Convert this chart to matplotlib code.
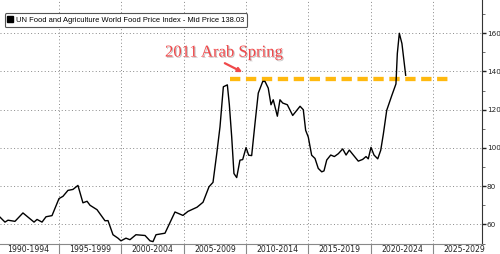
import numpy as np
import matplotlib
matplotlib.use("Agg")
import matplotlib.pyplot as plt
from matplotlib.lines import Line2D
from matplotlib.ticker import FixedLocator, NullFormatter
import matplotlib.patheffects as pe

# FAO food price index (decimal year, index)
years = [1990.27, 1990.67, 1990.91, 1991.47, 1992.11, 1993.0, 1993.24, 1993.64,
         1993.96, 1994.44, 1995.0, 1995.32, 1995.72, 1996.12, 1996.52, 1996.92,
         1997.25, 1997.49, 1998.05, 1998.69, 1998.93, 1999.33, 1999.73, 1999.97,
         2000.37, 2000.69, 2001.17, 2001.9, 2002.3, 2002.54, 2002.78, 2003.5,
         2004.3, 2004.94, 2005.34, 2006.07, 2006.55, 2007.03, 2007.35, 2007.65,
         2007.91, 2008.18, 2008.5, 2008.66, 2008.85, 2009.03, 2009.25, 2009.51,
         2009.73, 2010.0, 2010.21, 2010.45, 2010.72, 2010.98, 2011.34, 2011.52,
         2011.78, 2012.0, 2012.18, 2012.51, 2012.72, 2012.94, 2013.31, 2013.74,
         2014.01, 2014.33, 2014.59, 2014.78, 2014.99, 2015.26, 2015.53, 2015.79,
         2016.07, 2016.25, 2016.47, 2016.79, 2017.08, 2017.4, 2017.75, 2018.02,
         2018.28, 2018.6, 2019.0, 2019.35, 2019.62, 2019.8, 2020.02, 2020.26,
         2020.56, 2020.8, 2021.01, 2021.28, 2021.68, 2022.02, 2022.13, 2022.29,
         2022.5, 2022.8]
index = [63.8, 61.2, 62.2, 61.6, 66.0, 61.2, 62.6, 61.2,
         64.0, 64.6, 73.5, 74.7, 77.8, 78.3, 80.4, 71.3,
         72.1, 70.0, 67.7, 61.9, 62.0, 54.6, 52.8, 51.4,
         52.8, 52.0, 54.6, 54.2, 51.4, 51.0, 54.6, 55.4,
         66.5, 64.7, 66.8, 69.0, 71.6, 79.7, 82.0, 97.0,
         111.0, 132.0, 133.0, 122.6, 105.7, 86.6, 84.5, 93.6,
         93.9, 100.2, 96.2, 96.0, 113.0, 128.7, 134.8, 134.8,
         131.3, 122.6, 125.2, 116.6, 125.2, 123.5, 122.6, 117.0,
         119.2, 121.8, 120.0, 109.2, 105.7, 96.2, 94.5, 89.3,
         87.5, 88.0, 93.7, 96.3, 95.5, 97.0, 99.5, 96.3,
         98.9, 96.3, 93.1, 94.0, 95.5, 94.3, 100.3, 96.3,
         94.3, 98.8, 107.3, 119.7, 127.3, 133.5, 149.4, 160.0,
         154.6, 138.03]

spring_level = 136
spring_start = 2008.7
spring_end = 2026.4

period_edges = [1995, 2000, 2005, 2010, 2015, 2020, 2025]
period_mids = [1992.5, 1997.5, 2002.5, 2007.5, 2012.5, 2017.5, 2022.5, 2027.5]
period_labels = ["1990-1994", "1995-1999", "2000-2004", "2005-2009",
                 "2010-2014", "2015-2019", "2020-2024", "2025-2029"]
y_ticks = [60, 80, 100, 120, 140, 160]

legend_label = "UN Food and Agriculture World Food Price Index - Mid Price 138.03"

fig = plt.figure(figsize=(5.0, 2.54), dpi=100)
ax = fig.add_axes([0.0, 0.039, 0.964, 0.961])

ax.plot(years, index, color="black", lw=1.0, zorder=3)
ax.hlines(spring_level, spring_start, spring_end, colors="#ffb90f", lw=3.1,
          linestyles=(0, (2.4, 1.3)), zorder=2)

ax.set_xlim(1990.27, 2028.92)
ax.set_ylim(49.7, 177.4)

# x axis: separators at period edges, labels centred between them
ax.xaxis.set_major_locator(FixedLocator(period_edges))
ax.xaxis.set_major_formatter(NullFormatter())
ax.set_xticks(period_mids, period_labels, minor=True)
ax.tick_params(axis="x", which="major", length=10, width=0.8, color="#888888",
               direction="out")
ax.tick_params(axis="x", which="minor", length=0, pad=1, labelsize=5.6,
               labelcolor="#222222")

# right-hand y axis
ax.yaxis.tick_right()
ax.set_yticks(y_ticks)
ax.set_yticks(np.arange(50, 171, 10), minor=True)
ax.tick_params(axis="y", which="major", length=3, width=1.0, color="#222222",
               labelsize=5.2, labelcolor="#222222", pad=0.5)
ax.tick_params(axis="y", which="minor", length=2, width=0.6, color="#555555")

ax.grid(True, which="major", linestyle=(0, (1, 2.5)), color="#888888", lw=0.7)

for s in ["left", "top"]:
    ax.spines[s].set_visible(False)
ax.spines["right"].set_color("#333333")
ax.spines["right"].set_linewidth(0.8)
ax.spines["bottom"].set_color("#888888")
ax.spines["bottom"].set_linewidth(0.8)

handle = Line2D([], [], marker="s", color="black", linestyle="none", markersize=5)
leg = ax.legend([handle], [legend_label], loc="upper left",
                bbox_to_anchor=(0.002, 0.962), prop={"family": "Liberation Sans", "size": 5.4},
                handlelength=0.6, handletextpad=0.4, borderpad=0.45,
                fancybox=True, framealpha=1, edgecolor="#555555")
leg.get_frame().set_linewidth(0.8)

ax.text(2003.5, 147.8, "2011 Arab Spring", family="Liberation Serif", fontsize=12,
        color="#f0484a", ha="left", va="baseline",
        path_effects=[pe.withSimplePatchShadow(offset=(0.8, -0.8), shadow_rgbFace="#888888", alpha=0.5)])
ax.annotate("", xy=(2009.9, 139.0), xytext=(2008.1, 145.0),
            arrowprops=dict(arrowstyle="-|>", color="#f0484a", lw=1.6,
                            mutation_scale=6))

fig.savefig("out.png", dpi=100)
